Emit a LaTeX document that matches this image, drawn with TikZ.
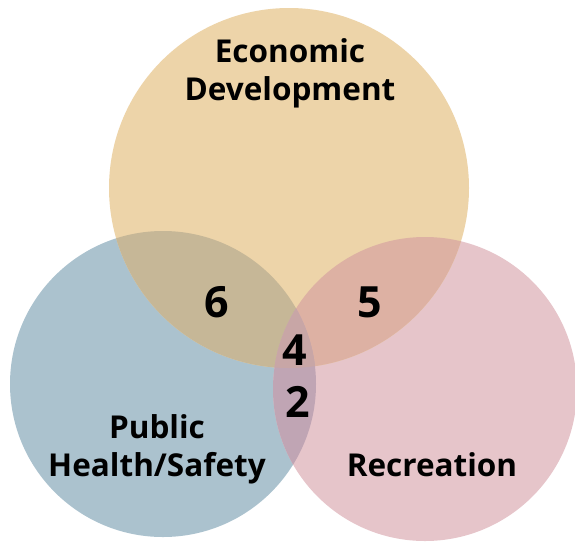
\documentclass[tikz,border=0pt]{standalone}
\usepackage{fontspec}
\setmainfont{Open Sans}
\usepackage{xcolor}
\usetikzlibrary{positioning}

\definecolor{econtan}{HTML}{EDD4A9}
\definecolor{healthblue}{HTML}{ABC2CE}
\definecolor{recpink}{HTML}{E6C5CA}
\definecolor{tanblue}{HTML}{C6B797}
\definecolor{tanpink}{HTML}{DDB1A3}
\definecolor{bluepink}{HTML}{C0A5B4}
\definecolor{allthree}{HTML}{C8A6A6}

\begin{document}
\begin{tikzpicture}[
  x=1pt, y=-1pt,
  setlabel/.style = {font=\fontsize{31.5}{38}\selectfont\bfseries, align=center,
                     inner sep=0pt},
  count/.style    = {font=\fontsize{43}{43}\selectfont\bfseries, inner sep=0pt}
]
\useasboundingbox (0,0) rectangle (575,542);

%% ---- circles ----
\fill[healthblue] (163,384) circle (153);
\fill[recpink]    (425,389) circle (152);
\fill[econtan]    (289,188) circle (180);

%% ---- overlaps ----
\begin{scope}
  \clip (289,188) circle (180);
  \fill[tanblue] (163,384) circle (153);
  \fill[tanpink] (425,389) circle (152);
\end{scope}
\begin{scope}
  \clip (163,384) circle (153);
  \fill[bluepink] (425,389) circle (152);
  \clip (289,188) circle (180);
  \fill[allthree] (425,389) circle (152);
\end{scope}

%% ---- set labels ----
\node[setlabel, anchor=base] (econ)   at (290,100) {Economic\\Development};
\node[setlabel, anchor=base] (health) at (157,476) {Public\\Health/Safety};
\node[setlabel, anchor=base] (rec)    at (432,476) {Recreation};

%% ---- counts ----
\node[count] (eh)  at (217,302) {6};
\node[count] (er)  at (370,302) {5};
\node[count] (ehr) at (295,350) {4};
\node[count] (hr)  at (298,402) {2};
\end{tikzpicture}
\end{document}
